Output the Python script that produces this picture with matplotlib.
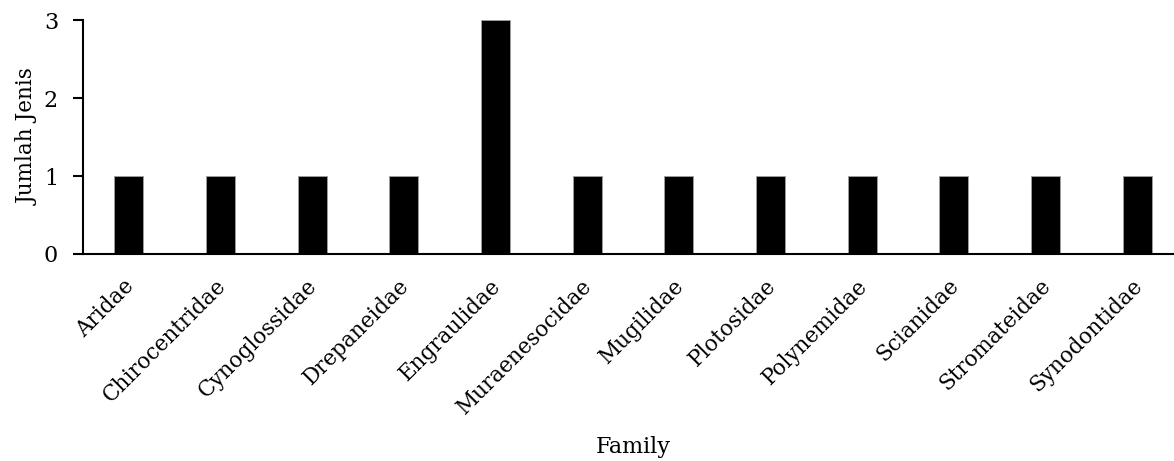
import matplotlib
matplotlib.use("Agg")
import matplotlib.pyplot as plt
from matplotlib.transforms import ScaledTranslation

families = ["Aridae", "Chirocentridae", "Cynoglossidae", "Drepaneidae", "Engraulidae",
            "Muraenesocidae", "Mugilidae", "Plotosidae", "Polynemidae", "Scianidae",
            "Stromateidae", "Synodontidae"]
counts = [1, 1, 1, 1, 3, 1, 1, 1, 1, 1, 1, 1]
yticks = [0, 1, 2, 3]

plt.rcParams['font.family'] = ['DejaVu Serif']

fig = plt.figure(figsize=(11.74, 4.61), dpi=100)
ax = fig.add_axes([83/1174, 207/461, 1100/1174, 234/461])

x = list(range(len(families)))
ax.bar(x, counts, width=0.316, color='black', edgecolor='#a0a0a0', linewidth=0.6)
ax.set_xlim(-0.5, len(families) - 0.5)
ax.set_ylim(0, 3)
ax.set_yticks(yticks)
ax.set_xticks(x)
ax.set_xticklabels(families, rotation=45, ha='right', rotation_mode='anchor', fontsize=15.5)
ax.tick_params(axis='x', length=0, pad=15)
ax.tick_params(axis='y', length=7, width=1.5, labelsize=16, pad=11)
off = ScaledTranslation(-6/100, 0, fig.dpi_scale_trans)
for lbl in ax.get_xticklabels():
    lbl.set_transform(lbl.get_transform() + off)
for s in ['top', 'right']:
    ax.spines[s].set_visible(False)
for s in ['left', 'bottom']:
    ax.spines[s].set_linewidth(1.5)
ax.set_xlabel("Family", fontsize=16, labelpad=13)
ax.set_ylabel("Jumlah Jenis", fontsize=15.5, labelpad=3.5)

fig.savefig("out.png", dpi=100)
